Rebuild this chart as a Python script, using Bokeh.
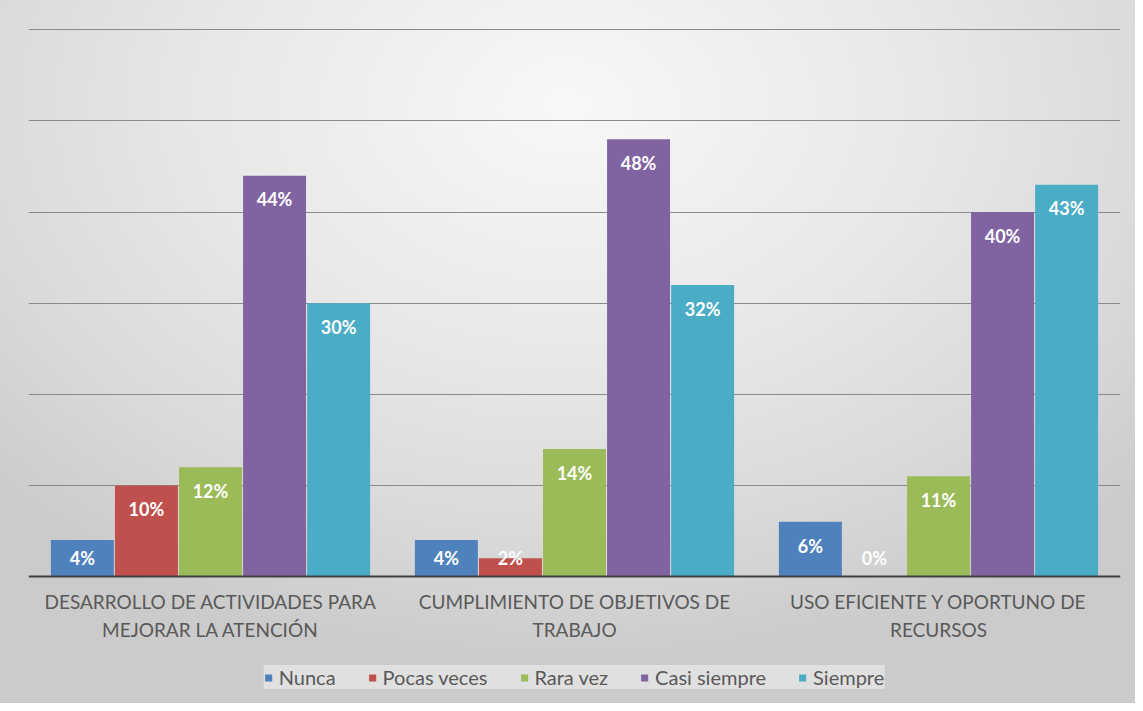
from bokeh.plotting import figure
from bokeh.models import (FactorRange, ColumnDataSource, Legend, LegendItem, FixedTicker,
                          LabelSet, Span)
from bokeh.transform import dodge
from bokeh.core.properties import value
from bokeh.embed import file_html
from bokeh.resources import INLINE

categories = ["DESARROLLO DE ACTIVIDADES PARA\nMEJORAR LA ATENCIÓN",
              "CUMPLIMIENTO DE OBJETIVOS DE\nTRABAJO",
              "USO EFICIENTE Y OPORTUNO DE\nRECURSOS"]
series = ["Nunca", "Pocas veces", "Rara vez", "Casi siempre", "Siempre"]
nunca = [4, 4, 6]
pocas_veces = [10, 2, 0]
rara_vez = [12, 14, 11]
casi_siempre = [44, 48, 40]
siempre = [30, 32, 43]
values = [nunca, pocas_veces, rara_vez, casi_siempre, siempre]
colors = ["#4f81bd", "#c0504d", "#9bbb59", "#8064a2", "#4bacc6"]
offsets = [-0.352, -0.176, 0.0, 0.176, 0.352]
y_ticks = [10, 20, 30, 40, 50, 60]

FONT = "Lato"
Y_TOP = 60.15
Y_BOTTOM = -Y_TOP * 127 / 548   # room below the baseline for category labels and legend

p = figure(x_range=FactorRange(*categories, range_padding=0), y_range=(Y_BOTTOM, Y_TOP),
           width=1135, height=703, output_backend="svg", toolbar_location=None,
           min_border_left=28, min_border_right=15, min_border_top=28, min_border_bottom=0)
p.background_fill_alpha = 0
p.border_fill_alpha = 0
p.outline_line_color = None
p.styles = {"background": "radial-gradient(ellipse 70% 80% at 50% 15%, #f8f8f8 0%, #e8e8e8 45%, #dadada 75%, #cbcbcb 100%)"}

items = []
for name, vals, col, off in zip(series, values, colors, offsets):
    src = ColumnDataSource(dict(cat=categories, v=vals,
                                ly=[max(x - 2.6, 2.0) for x in vals],
                                lab=[f"{x}%" for x in vals]))
    r = p.vbar(x=dodge("cat", off, range=p.x_range), top="v", bottom=0, width=0.173,
               source=src, fill_color=col, line_color=None)
    items.append(LegendItem(label=name, renderers=[r]))
    lbl = LabelSet(x=dodge("cat", off, range=p.x_range), y="ly", text="lab", source=src,
                   text_color="white", text_font=value(FONT), text_font_style="bold",
                   text_font_size="18px", text_align="center", text_baseline="middle")
    p.add_layout(lbl)

p.add_layout(Span(location=0, dimension="width", line_color="#404040", line_width=2))

cat_src = ColumnDataSource(dict(cat=categories, y=[0] * len(categories)))
p.text(x="cat", y="y", text="cat", source=cat_src, y_offset=13,
       text_font=value(FONT), text_font_size="19px", text_color="#595959",
       text_align="center", text_baseline="top", text_line_height=1.22)

p.xaxis.visible = False
p.yaxis.visible = False
p.ygrid.ticker = FixedTicker(ticks=y_ticks)
p.ygrid.grid_line_color = "#8a8a8a"
p.ygrid.grid_line_width = 1.2
p.xgrid.grid_line_color = None

legend = Legend(items=items, orientation="horizontal", location="bottom_center",
                label_text_font=FONT, label_text_font_size="20px", label_text_color="#595959",
                glyph_width=9, glyph_height=9, label_standoff=6, spacing=32,
                background_fill_color="#f2f2f2", background_fill_alpha=0.55,
                border_line_color=None, padding=10, margin=14)
p.add_layout(legend)

open("out.html", "w").write(file_html(p, INLINE))
